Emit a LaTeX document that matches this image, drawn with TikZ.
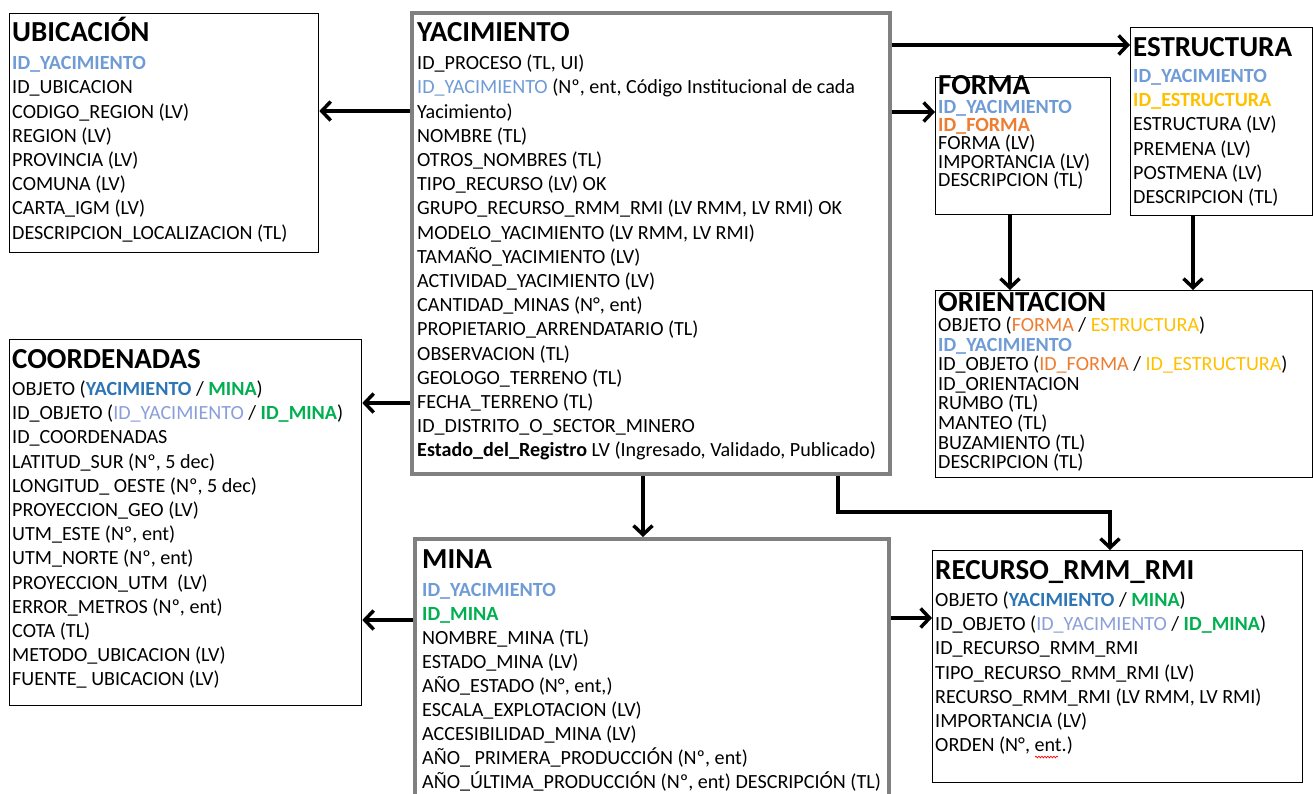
\documentclass[tikz,border=0pt]{standalone}
\usepackage{fontspec}
\setmainfont{Carlito}
\usetikzlibrary{arrows.meta,decorations.pathmorphing}
\definecolor{idblue}{HTML}{6F9BD6}
\definecolor{idbluelt}{HTML}{8A9FDA}
\definecolor{objblue}{HTML}{2E75B6}
\definecolor{grn}{HTML}{00B050}
\definecolor{orng}{HTML}{ED7D31}
\definecolor{gold}{HTML}{FFC000}
\definecolor{boxgray}{HTML}{808080}
\newcommand\fl{\rule{0pt}{16pt}}
\newcommand\flf{\rule{0pt}{14pt}}
\newcommand\bidb[1]{{\bfseries\color{idblue}#1}}
\newcommand\idlt[1]{{\color{idbluelt}#1}}
\newcommand\bobj[1]{{\bfseries\color{objblue}#1}}
\newcommand\bgrn[1]{{\bfseries\color{grn}#1}}
\newcommand\corng[1]{{\color{orng}#1}}
\newcommand\bcorng[1]{{\bfseries\color{orng}#1}}
\newcommand\cgold[1]{{\color{gold}#1}}
\newcommand\bcgold[1]{{\bfseries\color{gold}#1}}
\newcommand\bodyfnt[1]{\fontsize{20.1}{#1}\selectfont\lineskiplimit=-50pt\relax}
\begin{document}
\begin{tikzpicture}[x=1pt,y=-1pt,
  thinbox/.style={draw=black,line width=1.3pt,rectangle,inner sep=0pt,anchor=north west,fill=white},
  graybox/.style={draw=boxgray,line width=4pt,rectangle,inner sep=0pt,anchor=north west,fill=white},
  ttl/.style={anchor=base west,inner sep=0pt,font=\fontsize{29}{31}\selectfont\bfseries},
  body/.style={anchor=north west,inner sep=0pt,align=left,font=\bodyfnt{24.2}},
  bodyf/.style={body,font=\bodyfnt{18.1}},
  bodyo/.style={body,font=\bodyfnt{19.6}},
  bodym/.style={body,font=\bodyfnt{24}},
  arr/.style={line width=3.5pt,line join=miter,-{Straight Barb[length=9pt,width=19pt]}}]
\clip (0,0) rectangle (1313,793);
\fill[white] (0,0) rectangle (1313,793);

% boxes
\node[thinbox,minimum width=309.5pt,minimum height=239.5pt] (ubic) at (8.5,12.5) {};
\node[graybox,minimum width=478pt,minimum height=461pt] (yac) at (410,11) {};
\node[thinbox,minimum width=175pt,minimum height=137pt] (forma) at (935,77) {};
\node[thinbox,minimum width=182pt,minimum height=188.5pt] (estr) at (1130,26.5) {};
\node[thinbox,minimum width=377pt,minimum height=187pt] (orient) at (935,290) {};
\node[thinbox,minimum width=352.5pt,minimum height=366.5pt] (coord) at (8.5,338.5) {};
\node[graybox,minimum width=474pt,minimum height=280pt] (mina) at (413,537) {};
\node[thinbox,minimum width=370pt,minimum height=232pt] (rec) at (932,550) {};

% UBICACION
\node[ttl] (ubic-t) at (12,41) {UBICACIÓN};
\node[body] (ubic-b) at (12,53.5) {\fl\bidb{ID\_YACIMIENTO}\\
ID\_UBICACION\\
CODIGO\_REGION (LV)\\
REGION (LV)\\
PROVINCIA (LV)\\
COMUNA (LV)\\
CARTA\_IGM (LV)\\
DESCRIPCION\_LOCALIZACION (TL)};

% YACIMIENTO
\node[ttl] (yac-t) at (417,41) {YACIMIENTO};
\node[body] (yac-b) at (417,53.5) {\fl ID\_PROCESO (TL, UI)\\
{\color{idblue}ID\_YACIMIENTO} (Nº, ent, Código Institucional de cada\\
Yacimiento)\\
NOMBRE (TL)\\
OTROS\_NOMBRES (TL)\\
TIPO\_RECURSO (LV) OK\\
GRUPO\_RECURSO\_RMM\_RMI (LV RMM, LV RMI) OK\\
MODELO\_YACIMIENTO (LV RMM, LV RMI)\\
TAMAÑO\_YACIMIENTO (LV)\\
ACTIVIDAD\_YACIMIENTO (LV)\\
CANTIDAD\_MINAS (N°, ent)\\
PROPIETARIO\_ARRENDATARIO (TL)\\
OBSERVACION (TL)\\
GEOLOGO\_TERRENO (TL)\\
FECHA\_TERRENO (TL)\\
ID\_DISTRITO\_O\_SECTOR\_MINERO\\
\textbf{Estado\_del\_Registro} LV (Ingresado, Validado, Publicado)};

% FORMA
\node[ttl] (forma-t) at (938,94.5) {FORMA};
\node[bodyf] (forma-b) at (938,99.5) {\flf\bidb{ID\_YACIMIENTO}\\
\bcorng{ID\_FORMA}\\
FORMA (LV)\\
IMPORTANCIA (LV)\\
DESCRIPCION (TL)};

% ESTRUCTURA
\node[ttl] (estr-t) at (1133,56) {ESTRUCTURA};
\node[body] (estr-b) at (1133,66.3) {\fl\bidb{ID\_YACIMIENTO}\\
\bcgold{ID\_ESTRUCTURA}\\
ESTRUCTURA (LV)\\
PREMENA (LV)\\
POSTMENA (LV)\\
DESCRIPCION (TL)};

% ORIENTACION
\node[ttl] (orient-t) at (938,311) {ORIENTACION};
\node[bodyo] (orient-b) at (938,315.3) {\fl OBJETO (\corng{FORMA} / \cgold{ESTRUCTURA})\\
\bidb{ID\_YACIMIENTO}\\
ID\_OBJETO (\corng{ID\_FORMA} / \cgold{ID\_ESTRUCTURA})\\
ID\_ORIENTACION\\
RUMBO (TL)\\
MANTEO (TL)\\
BUZAMIENTO (TL)\\
DESCRIPCION (TL)};

% COORDENADAS
\node[ttl] (coord-t) at (12,368) {COORDENADAS};
\node[body] (coord-b) at (12,379.3) {\fl OBJETO (\bobj{YACIMIENTO} / \bgrn{MINA})\\
ID\_OBJETO (\idlt{ID\_YACIMIENTO} / \bgrn{ID\_MINA})\\
ID\_COORDENADAS\\
LATITUD\_SUR (Nº, 5 dec)\\
LONGITUD\_ OESTE (Nº, 5 dec)\\
PROYECCION\_GEO (LV)\\
UTM\_ESTE (Nº, ent)\\
UTM\_NORTE (Nº, ent)\\
PROYECCION\_UTM\ \ (LV)\\
ERROR\_METROS (Nº, ent)\\
COTA (TL)\\
METODO\_UBICACION (LV)\\
FUENTE\_ UBICACION (LV)};

% MINA
\node[ttl] (mina-t) at (422,568) {MINA};
\node[bodym] (mina-b) at (422,580.3) {\fl\bidb{ID\_YACIMIENTO}\\
\bgrn{ID\_MINA}\\
NOMBRE\_MINA (TL)\\
ESTADO\_MINA (LV)\\
AÑO\_ESTADO (N°, ent,)\\
ESCALA\_EXPLOTACION (LV)\\
ACCESIBILIDAD\_MINA (LV)\\
AÑO\_ PRIMERA\_PRODUCCIÓN (Nº, ent)\\
AÑO\_ÚLTIMA\_PRODUCCIÓN (Nº, ent) DESCRIPCIÓN (TL)};

% RECURSO
\node[ttl] (rec-t) at (935,579) {RECURSO\_RMM\_RMI};
\node[body] (rec-b) at (935,590.3) {\fl OBJETO (\bobj{YACIMIENTO} / \bgrn{MINA})\\
ID\_OBJETO (\idlt{ID\_YACIMIENTO} / \bgrn{ID\_MINA})\\
ID\_RECURSO\_RMM\_RMI\\
TIPO\_RECURSO\_RMM\_RMI (LV)\\
RECURSO\_RMM\_RMI (LV RMM, LV RMI)\\
IMPORTANCIA (LV)\\
ORDEN (N°, ent.)};
\draw[red,line width=0.7pt,decorate,decoration={snake,amplitude=0.8pt,segment length=3pt}] (1035,757) -- (1058,757);

% connectors
\coordinate (bend) at (1110,512);
\draw[arr] (yac.west |- 0,111) -- (ubic.east |- 0,111);
\draw[arr] (yac.east |- 0,45) -- (estr.west |- 0,45);
\draw[arr] (yac.east |- 0,112) -- (forma.west |- 0,112);
\draw[arr] (forma.south -| 1010,0) -- (orient.north -| 1010,0);
\draw[arr] (estr.south -| 1193,0) -- (orient.north -| 1193,0);
\draw[arr] (yac.west |- 0,403) -- (coord.east |- 0,403);
\draw[arr] (mina.west |- 0,620) -- (coord.east |- 0,620);
\draw[arr] (yac.south -| 643,0) -- (mina.north -| 643,0);
\draw[arr] (yac.south -| 838,0) |- (bend) -- (rec.north -| bend);
\draw[arr] (mina.east |- 0,618) -- (rec.west |- 0,618);
\end{tikzpicture}
\end{document}
